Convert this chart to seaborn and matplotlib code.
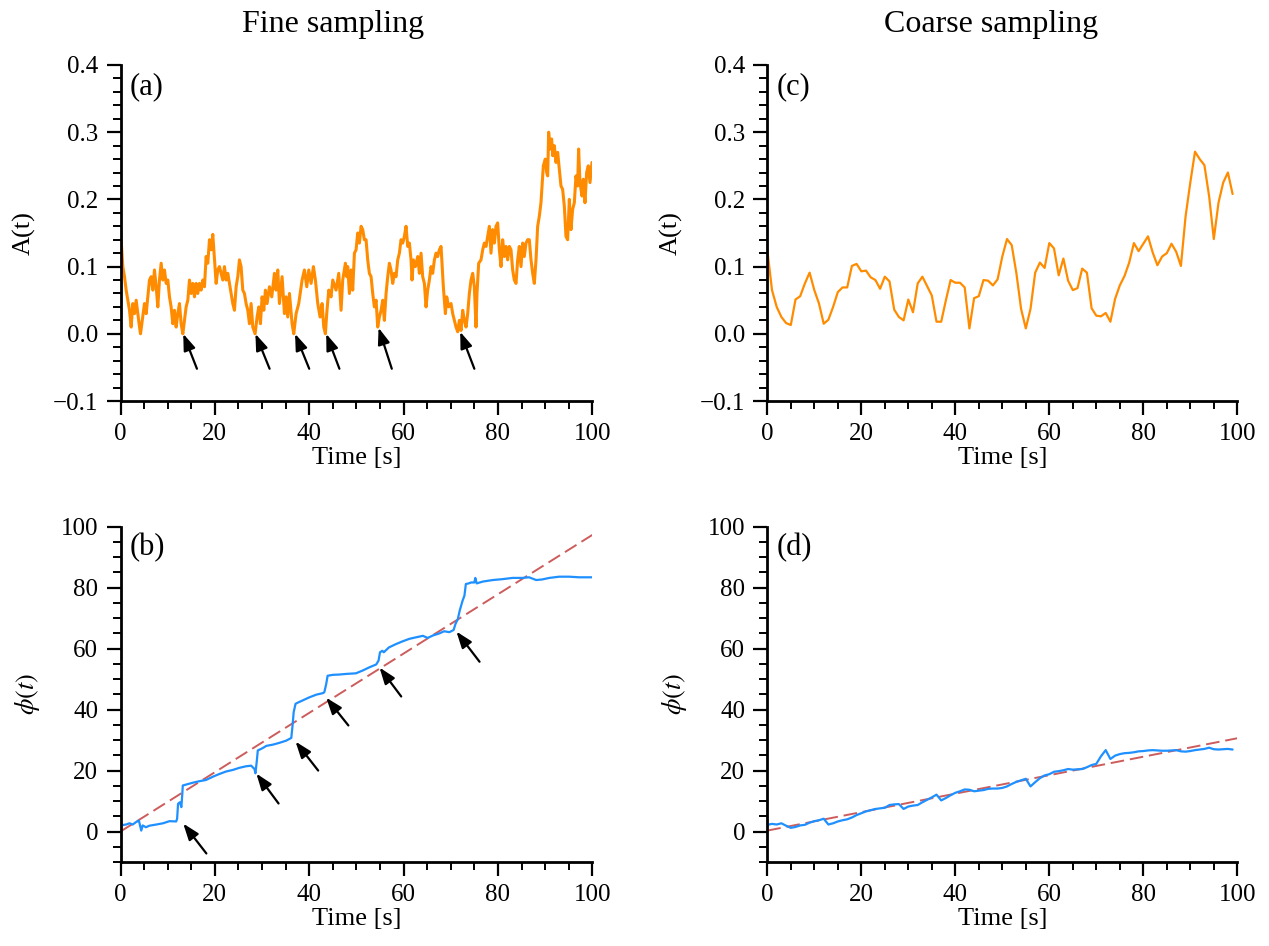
import numpy as np
import pandas as pd
import matplotlib
matplotlib.use("Agg")
import matplotlib.pyplot as plt
from matplotlib.ticker import MultipleLocator, AutoMinorLocator
import seaborn as sns

# ---------------- data ----------------
fine_t = [0.0, 0.49, 0.85, 1.20, 1.55, 1.91, 2.26, 2.61, 2.97, 3.32, 3.67, 4.03, 4.24, 4.52, 4.73,
          5.08, 5.44, 5.79, 6.14, 6.50, 6.85, 7.20, 7.56, 7.91, 8.26, 8.62, 8.97, 9.32, 9.68, 10.03,
          10.38, 10.73, 11.09, 11.44, 11.79, 12.15, 12.50, 12.85, 13.21, 13.56, 13.91, 14.27, 14.62,
          14.97, 15.32, 15.68, 16.03, 16.38, 16.74, 17.09, 17.44, 17.80, 18.15, 18.50, 18.86, 19.21,
          19.56, 19.92, 20.27, 20.62, 20.97, 21.33, 21.68, 22.03, 22.39, 22.74, 23.09, 23.45, 23.80,
          24.15, 24.51, 24.86, 25.21, 25.56, 25.92, 26.27, 26.62, 26.98, 27.33, 27.68, 28.04, 28.53,
          28.95, 29.31, 29.66, 30.01, 30.37, 30.72, 31.07, 31.57, 32.06, 32.63, 32.98, 33.33, 33.69,
          34.25, 34.75, 35.10, 35.45, 35.81, 36.37, 36.72, 37.22, 37.78, 38.49, 38.98, 39.48, 39.90,
          40.40, 40.89, 41.31, 41.81, 42.30, 42.73, 43.08, 43.43, 43.71, 44.14, 44.63, 44.99, 45.69,
          46.26, 46.75, 47.10, 47.67, 47.95, 48.16, 48.52, 48.87, 49.22, 49.58, 49.93, 50.28, 50.64,
          50.99, 51.34, 51.69, 52.05, 52.40, 52.75, 53.11, 53.46, 53.81, 54.17, 54.52, 54.87, 55.23,
          55.58, 55.93, 56.29, 56.64, 56.99, 57.34, 57.70, 58.05, 58.40, 58.76, 59.11, 59.46, 59.82,
          60.17, 60.52, 60.88, 61.23, 61.58, 61.79, 62.08, 62.50, 63.00, 63.35, 63.70, 64.05, 64.41,
          64.76, 65.11, 65.47, 65.82, 66.17, 66.53, 66.88, 67.23, 67.58, 67.94, 68.15, 68.43, 68.86,
          69.14, 69.56, 70.06, 70.41, 70.76, 71.12, 71.47, 71.82, 72.18, 72.53, 72.88, 73.24, 73.59,
          73.94, 74.29, 74.65, 75.00, 75.35, 75.56, 75.92, 76.41, 76.77, 77.12, 77.47, 77.82, 78.18,
          78.53, 78.88, 79.24, 79.59, 79.94, 80.30, 80.65, 81.00, 81.36, 81.71, 82.06, 82.42, 82.77,
          83.12, 83.47, 83.83, 84.18, 84.53, 84.89, 85.24, 85.59, 85.95, 86.30, 86.65, 87.01, 87.36,
          87.71, 88.07, 88.42, 88.77, 89.12, 89.34, 89.62, 90.04, 90.33, 90.54, 90.75, 91.03, 91.38,
          91.60, 91.95, 92.30, 92.66, 93.01, 93.36, 93.71, 94.07, 94.42, 94.77, 95.13, 95.48, 95.83,
          96.19, 96.54, 96.89, 97.10, 97.39, 97.81, 98.09, 98.45, 98.80, 99.15, 99.51, 99.93]
fine_A = [0.155, 0.100, 0.085, 0.065, 0.050, 0.035, 0.010, 0.045, 0.030, 0.050, 0.030, 0.010, 0.000, 0.015, 0.025,
          0.045, 0.030, 0.055, 0.080, 0.085, 0.065, 0.095, 0.070, 0.040, 0.080, 0.105, 0.080, 0.095, 0.075, 0.080,
          0.055, 0.040, 0.015, 0.035, 0.010, 0.030, 0.045, 0.015, 0.000, 0.020, 0.040, 0.050, 0.080,
          0.060, 0.075, 0.055, 0.075, 0.060, 0.075, 0.065, 0.080, 0.070, 0.115, 0.105, 0.140, 0.125,
          0.148, 0.110, 0.075, 0.095, 0.100, 0.090, 0.080, 0.100, 0.080, 0.090, 0.075, 0.060, 0.045,
          0.035, 0.070, 0.085, 0.110, 0.100, 0.065, 0.060, 0.045, 0.035, 0.015, 0.045, 0.010, 0.000,
          0.025, 0.040, 0.015, 0.055, 0.035, 0.065, 0.045, 0.070, 0.055, 0.090, 0.065, 0.095, 0.045,
          0.085, 0.030, 0.055, 0.025, 0.060, 0.015, 0.000, 0.030, 0.045, 0.080, 0.095, 0.070, 0.095,
          0.075, 0.100, 0.080, 0.045, 0.025, 0.045, 0.010, 0.000, 0.030, 0.065, 0.055, 0.080, 0.065,
          0.090, 0.035, 0.080, 0.105, 0.085, 0.100, 0.060, 0.095, 0.065, 0.120, 0.125, 0.150, 0.135,
          0.160, 0.155, 0.140, 0.140, 0.110, 0.090, 0.085, 0.060, 0.040, 0.050, 0.010, 0.025, 0.035,
          0.050, 0.020, 0.060, 0.085, 0.105, 0.095, 0.075, 0.090, 0.085, 0.110, 0.120, 0.140, 0.135,
          0.145, 0.160, 0.130, 0.135, 0.110, 0.080, 0.110, 0.100, 0.115, 0.090, 0.120, 0.085, 0.075,
          0.040, 0.065, 0.080, 0.100, 0.090, 0.110, 0.120, 0.115, 0.125, 0.130, 0.105, 0.070, 0.030,
          0.055, 0.040, 0.045, 0.030, 0.020, 0.010, 0.003, 0.020, 0.005, 0.035, 0.020, 0.010, 0.030,
          0.060, 0.080, 0.090, 0.070, 0.010, 0.060, 0.105, 0.110, 0.125, 0.135, 0.130, 0.145, 0.160,
          0.120, 0.155, 0.135, 0.160, 0.165, 0.125, 0.100, 0.140, 0.115, 0.130, 0.110, 0.130, 0.125,
          0.095, 0.080, 0.075, 0.110, 0.130, 0.100, 0.135, 0.115, 0.135, 0.140, 0.140, 0.110, 0.090,
          0.075, 0.110, 0.160, 0.175, 0.195, 0.220, 0.250, 0.260, 0.240, 0.235, 0.300, 0.275, 0.290,
          0.265, 0.280, 0.255, 0.270, 0.245, 0.220, 0.215, 0.190, 0.145, 0.140, 0.200, 0.155, 0.185,
          0.195, 0.235, 0.220, 0.275, 0.225, 0.205, 0.230, 0.195, 0.240, 0.250, 0.225, 0.255]

fine_phi_t = [0.0, 1.2, 1.9, 2.6, 3.3, 3.9, 4.4, 4.7, 5.4, 6.1, 7.6, 9.0, 10.4, 11.8, 12.0, 12.2, 12.6,
              12.9, 13.1, 13.2, 13.9, 15.3, 16.7, 18.1, 19.6, 21.0, 22.4, 23.8, 25.2, 26.6, 27.7, 28.4,
              28.6, 28.9, 29.1, 29.8, 30.5, 30.9, 32.3, 33.7, 35.1, 36.2, 36.5, 36.7, 37.1, 37.6, 38.6,
              40.0, 41.5, 42.9, 43.2, 43.6, 43.9, 45.0, 46.4, 47.8, 49.9, 51.3, 52.8, 54.2, 54.7, 55.0,
              55.5, 55.8, 56.9, 58.4, 59.8, 61.2, 62.6, 64.1, 65.1, 66.2, 67.6, 68.6, 69.7, 70.6, 71.0,
              71.5, 71.9, 72.5, 72.9, 73.2, 73.8, 74.3, 75.0, 75.2, 75.5, 76.8, 78.9, 81.0, 83.1, 85.2,
              86.6, 88.1, 89.4, 90.9, 93.0, 95.1, 97.2, 99.9]
fine_phi = [2.0, 2.3, 2.7, 2.3, 3.1, 3.6, 0.3, 2.0, 1.4, 1.9, 2.3, 2.7, 3.4, 3.3, 4.2, 9.1, 9.6,
            8.0, 12.3, 15.1, 15.4, 16.0, 16.5, 16.9, 18.0, 18.9, 19.7, 20.2, 20.9, 21.4, 21.6, 20.5,
            19.1, 23.3, 26.6, 27.1, 27.7, 28.1, 28.5, 29.1, 29.8, 30.7, 35.3, 39.1, 41.9, 42.3, 43.0,
            44.0, 44.9, 45.4, 45.7, 48.4, 51.1, 51.4, 51.5, 51.7, 51.9, 52.8, 53.9, 54.8, 56.1, 58.8,
            59.3, 58.8, 60.4, 61.5, 62.4, 63.2, 63.7, 64.2, 63.5, 64.3, 65.0, 65.7, 65.4, 66.1, 68.1,
            69.7, 72.5, 75.7, 77.4, 81.2, 81.4, 81.7, 81.7, 83.2, 81.4, 82.0, 82.5, 82.8, 83.2, 83.2,
            83.4, 82.5, 82.7, 83.2, 83.6, 83.6, 83.4, 83.4]

coarse_t = list(range(100))
coarse_A = [0.125, 0.065, 0.040, 0.025, 0.016, 0.013, 0.051, 0.056, 0.075, 0.091,
            0.065, 0.045, 0.015, 0.021, 0.040, 0.062, 0.069, 0.069, 0.101, 0.104,
            0.093, 0.094, 0.084, 0.080, 0.067, 0.085, 0.078, 0.036, 0.025, 0.020,
            0.051, 0.032, 0.075, 0.085, 0.071, 0.057, 0.018, 0.018, 0.050, 0.080,
            0.076, 0.076, 0.069, 0.008, 0.053, 0.056, 0.080, 0.079, 0.072, 0.081,
            0.115, 0.141, 0.132, 0.090, 0.037, 0.008, 0.037, 0.091, 0.106, 0.098,
            0.135, 0.127, 0.087, 0.112, 0.079, 0.065, 0.068, 0.097, 0.091, 0.038,
            0.027, 0.026, 0.031, 0.018, 0.052, 0.072, 0.086, 0.106, 0.135, 0.123,
            0.134, 0.145, 0.121, 0.102, 0.115, 0.120, 0.134, 0.122, 0.101, 0.175,
            0.225, 0.271, 0.260, 0.251, 0.205, 0.141, 0.195, 0.225, 0.240, 0.208]
coarse_phi = [2.2, 2.5, 2.3, 2.7, 1.9, 1.2, 1.5, 2.0, 2.2, 2.9,
              3.4, 3.7, 4.2, 2.3, 2.7, 3.3, 3.7, 4.0, 4.6, 5.4,
              6.0, 6.6, 7.0, 7.4, 7.6, 7.8, 8.7, 8.9, 9.0, 7.4,
              8.2, 8.5, 8.7, 9.6, 10.4, 11.2, 12.1, 10.2, 11.0, 11.9,
              12.7, 13.2, 13.8, 13.7, 13.2, 13.4, 13.6, 14.0, 14.1, 14.1,
              14.3, 14.8, 15.6, 16.3, 16.8, 17.3, 14.8, 16.2, 17.5, 18.4,
              18.8, 19.6, 19.8, 20.1, 20.5, 20.3, 20.4, 20.5, 21.1, 21.8,
              22.2, 24.7, 26.7, 23.8, 24.9, 25.4, 25.7, 25.8, 26.0, 26.3,
              26.4, 26.6, 26.7, 26.6, 26.5, 26.5, 26.6, 26.7, 26.3, 26.2,
              26.4, 26.7, 26.9, 27.1, 27.5, 27.0, 26.9, 27.0, 27.1, 26.9]

# linear reference lines (end points)
fit_fine_t = [0, 100]
fit_fine_phi = [0.0, 97.3]
fit_coarse_t = [0, 100]
fit_coarse_phi = [0.3, 30.6]

# arrows: (tip_t, tip_y, tail_t, tail_y)
arrows_A = [(13.3, 0.000, 16.2, -0.052), (28.6, 0.000, 31.6, -0.052), (37.0, 0.000, 40.0, -0.052),
            (43.6, 0.000, 46.4, -0.052), (54.7, 0.009, 57.5, -0.052), (72.0, 0.003, 75.0, -0.052)]
arrows_phi = [(13.3, 2.6, 18.2, -7.2), (28.8, 19.0, 33.5, 9.2), (37.1, 29.5, 41.9, 20.0),
              (43.6, 43.9, 48.3, 34.8), (54.9, 53.8, 59.5, 44.3), (71.2, 65.6, 76.1, 55.7)]

titles = ["Fine sampling", "Coarse sampling"]
panel_labels = ["(a)", "(b)", "(c)", "(d)"]

# ---------------- style ----------------
sns.set_theme(style="ticks")
plt.rcParams["font.family"] = ["Liberation Serif", "DejaVu Serif"]
plt.rcParams["mathtext.fontset"] = "stix"
plt.rcParams["axes.linewidth"] = 2.0
for key in ("text.color", "axes.labelcolor", "xtick.color", "ytick.color",
            "axes.edgecolor", "xtick.labelcolor", "ytick.labelcolor"):
    plt.rcParams[key] = "black"

ORANGE = "#FF8C00"
BLUE = "#1E90FF"
RED = "#CD5C5C"

W, H = 1269, 946
fig = plt.figure(figsize=(W / 100, H / 100), dpi=100)

def px_axes(left, top, right, bottom):
    return fig.add_axes([left / W, 1 - bottom / H, (right - left) / W, (bottom - top) / H])

ax_a = px_axes(120.5, 65, 592.3, 401)
ax_c = px_axes(767.3, 65, 1237.3, 401)
ax_b = px_axes(120.5, 526.7, 592.3, 862)
ax_d = px_axes(767.3, 526.7, 1237.3, 862)

df_fine = pd.DataFrame({"t": fine_t, "A": fine_A})
df_fphi = pd.DataFrame({"t": fine_phi_t, "phi": fine_phi})
df_coarse = pd.DataFrame({"t": coarse_t, "A": coarse_A, "phi": coarse_phi})

sns.lineplot(data=df_fine, x="t", y="A", ax=ax_a, color=ORANGE, linewidth=2.2,
             estimator=None, sort=False)
sns.lineplot(data=df_coarse, x="t", y="A", ax=ax_c, color=ORANGE, linewidth=1.6,
             estimator=None, sort=False)
sns.lineplot(x=fit_fine_t, y=fit_fine_phi, ax=ax_b, color=RED, linewidth=1.4,
             linestyle=(0, (7, 3)))
sns.lineplot(data=df_fphi, x="t", y="phi", ax=ax_b, color=BLUE, linewidth=1.6,
             estimator=None, sort=False)
sns.lineplot(x=fit_coarse_t, y=fit_coarse_phi, ax=ax_d, color=RED, linewidth=1.4,
             linestyle=(0, (7, 3)))
sns.lineplot(data=df_coarse, x="t", y="phi", ax=ax_d, color=BLUE, linewidth=1.6,
             estimator=None, sort=False)

for ax in (ax_a, ax_c):
    ax.set_ylim(-0.1, 0.4)
    ax.yaxis.set_major_locator(MultipleLocator(0.1))
    ax.yaxis.set_minor_locator(AutoMinorLocator(5))
    ax.set_ylabel("A(t)", fontsize=19)
    ax.yaxis.set_label_coords(-0.18, 0.5)
for ax in (ax_b, ax_d):
    ax.set_ylim(-10, 100)
    ax.yaxis.set_major_locator(MultipleLocator(20))
    ax.yaxis.set_minor_locator(AutoMinorLocator(4))
    ax.set_ylabel(r"$\phi(t)$", fontsize=19)
    ax.yaxis.set_label_coords(-0.167, 0.5)

for ax, lab in zip((ax_a, ax_b, ax_c, ax_d), panel_labels):
    ax.set_xlim(0, 100)
    ax.xaxis.set_major_locator(MultipleLocator(20))
    ax.xaxis.set_minor_locator(AutoMinorLocator(4))
    ax.set_xlabel("Time [s]", fontsize=19, labelpad=1)
    for s in ("top", "right"):
        ax.spines[s].set_visible(False)
    for s in ("left", "bottom"):
        ax.spines[s].set_linewidth(2.0)
        ax.spines[s].set_color("black")
    ax.tick_params(which="major", direction="out", length=10, width=1.6,
                   labelsize=18, color="black", labelcolor="black", pad=6)
    ax.tick_params(which="minor", direction="out", length=5.5, width=1.4, color="black")
    ax.text(0.02, 0.98, lab, transform=ax.transAxes, ha="left", va="top", fontsize=22,
            color="black")
    ax.set_facecolor("white")

for ax, arrs in ((ax_a, arrows_A), (ax_b, arrows_phi)):
    for tx, ty, sx, sy in arrs:
        ax.annotate("", xy=(tx, ty), xytext=(sx, sy),
                    arrowprops=dict(arrowstyle="-|>,head_length=0.55,head_width=0.2",
                                    color="black", lw=1.6, shrinkA=0, shrinkB=0,
                                    mutation_scale=18))

fig.text(333 / W, 1 - 32 / H, titles[0], ha="center", va="baseline", fontsize=23, color="black")
fig.text(991 / W, 1 - 32 / H, titles[1], ha="center", va="baseline", fontsize=23, color="black")

fig.savefig("out.png", dpi=100, facecolor="white")
